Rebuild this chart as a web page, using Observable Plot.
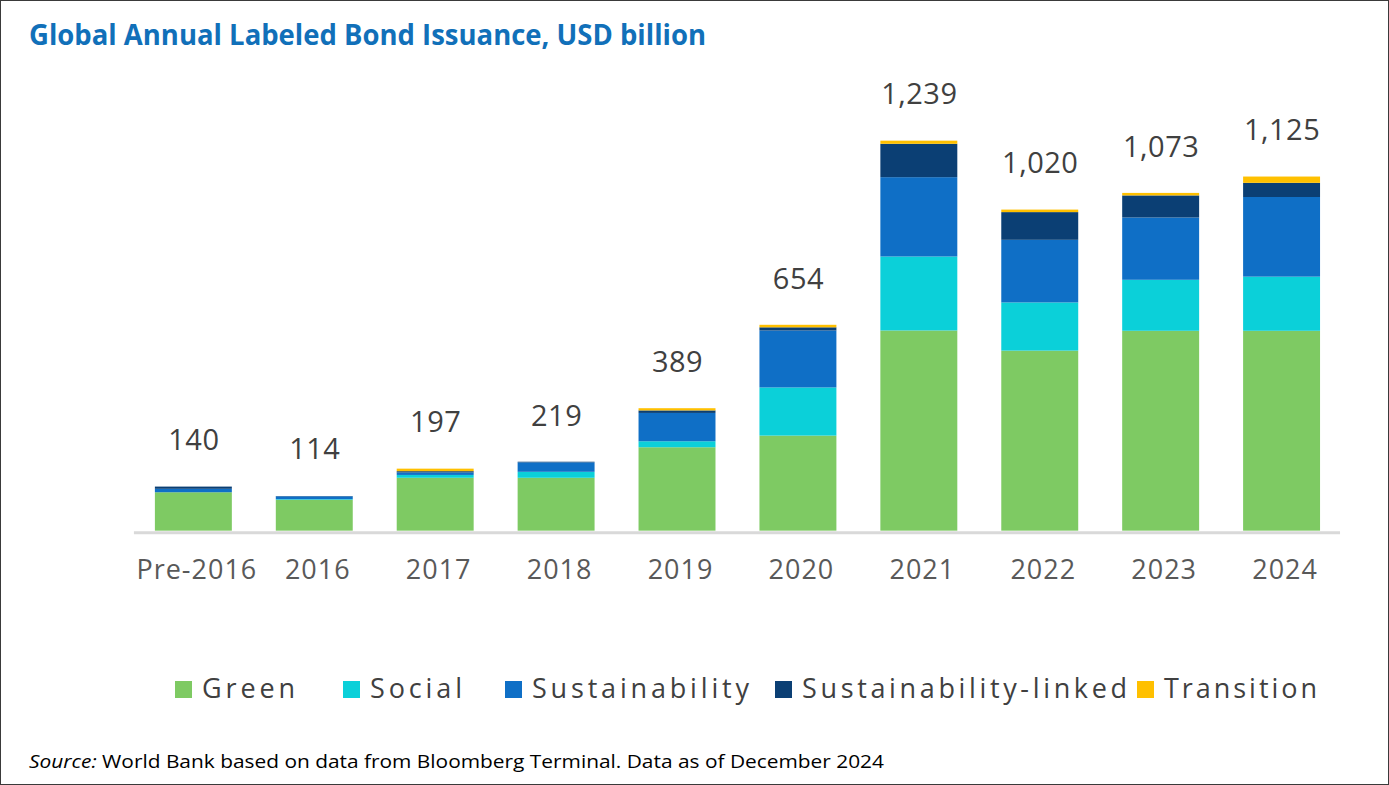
<!DOCTYPE html>
<html><head><meta charset="utf-8">
<script src="https://cdn.jsdelivr.net/npm/d3@7"></script>
<script src="https://cdn.jsdelivr.net/npm/@observablehq/plot@0.6"></script>
<style>
body{margin:0;background:#fff;}
#frame{position:relative;width:1387px;height:783px;border:1px solid #3a3a3a;overflow:hidden;background:#fff;font-family:"Open Sans",sans-serif;}
#title{position:absolute;left:0;top:0;}
#chart{position:absolute;left:-1px;top:59px;}
#legend{position:absolute;left:-1px;top:650px;}
#source{position:absolute;left:-1px;top:730px;}
#chart g[aria-label="x-axis tick label"] text{letter-spacing:1px;}
#chart g[aria-label="text"] text{letter-spacing:0.5px;}
</style></head><body>
<div id="frame">
<svg id="title" width="760" height="60"><text x="28" y="44" textLength="677" lengthAdjust="spacingAndGlyphs" font-family="Open Sans" font-weight="700" font-size="28" fill="#1170B9">Global Annual Labeled Bond Issuance, USD billion</text></svg>
<div id="chart"></div>
<svg id="legend" width="1389" height="70"></svg>
<svg id="source" width="1000" height="50"><text x="29" y="37" textLength="855" lengthAdjust="spacingAndGlyphs" font-family="Open Sans" font-size="19" fill="#000"><tspan font-style="italic">Source:</tspan> World Bank based on data from Bloomberg Terminal. Data as of December 2024</text></svg>
</div>
<script>
const categories = ["Pre-2016","2016","2017","2018","2019","2020","2021","2022","2023","2024"];
const green          = [122,  98, 168, 168, 265, 302, 636, 572, 635, 635];
const social         = [  0,   2,   9,  19,  19, 153, 235, 153, 162, 172];
const sustainability = [ 11,   9,   8,  30,  90, 181, 252, 199, 198, 253];
const linked         = [  7,   1,   4,   2,   8,  10, 106,  88,  70,  45];
const transition     = [  0,   0,   8,   0,   7,   8,  10,   8,   8,  20];
const totals         = [140, 114, 197, 219, 389, 654, 1239, 1020, 1073, 1125];
const seriesNames  = ["Green","Social","Sustainability","Sustainability-linked","Transition"];
const seriesColors = ["#7ECA63","#0BD0D9","#0F6FC6","#0B3F74","#FFC000"];
const seriesValues = [green, social, sustainability, linked, transition];

const rows = [];
seriesNames.forEach((s,i)=>categories.forEach((c,j)=>rows.push({category:c, series:s, value:seriesValues[i][j]})));
const totalRows = categories.map((c,j)=>({category:c, total:totals[j], label:d3.format(",")(totals[j])}));

const chart = Plot.plot({
  width:1389, height:560,
  marginLeft:134, marginRight:48, marginTop:30, marginBottom:89,
  x:{domain:categories, paddingInner:0.365, paddingOuter:0.162, label:null},
  y:{domain:[0,1400], axis:null},
  color:{domain:seriesNames, range:seriesColors},
  style:{fontFamily:"Open Sans", background:"transparent", overflow:"visible"},
  marks:[
    Plot.barY(rows,{x:"category", y:"value", fill:"series"}),
    Plot.ruleY([0],{stroke:"#d9d9d9", strokeWidth:3, dy:1.5}),
    Plot.axisX({tickSize:0, tickPadding:29, fontSize:27, color:"#595959", label:null, dx:3}),
    Plot.text(totalRows,{x:"category", y:"total", text:"label", dy:-46, fontSize:29, fill:"#404040"})
  ]
});
document.getElementById("chart").appendChild(chart);

// legend
const legendX = [175, 343, 505, 775, 1137];
const legendW = [93, 92, 217, 325, 153];
const lg = d3.select("#legend");
seriesNames.forEach((s,i)=>{
  lg.append("rect").attr("x",legendX[i]).attr("y",30).attr("width",17).attr("height",17).attr("fill",seriesColors[i]);
  lg.append("text").attr("x",legendX[i]+27).attr("y",47)
    .attr("font-family","Open Sans").attr("font-size",27).attr("fill","#404040")
    .attr("textLength",legendW[i]).attr("lengthAdjust","spacing").text(s);
});
</script>
</body></html>
